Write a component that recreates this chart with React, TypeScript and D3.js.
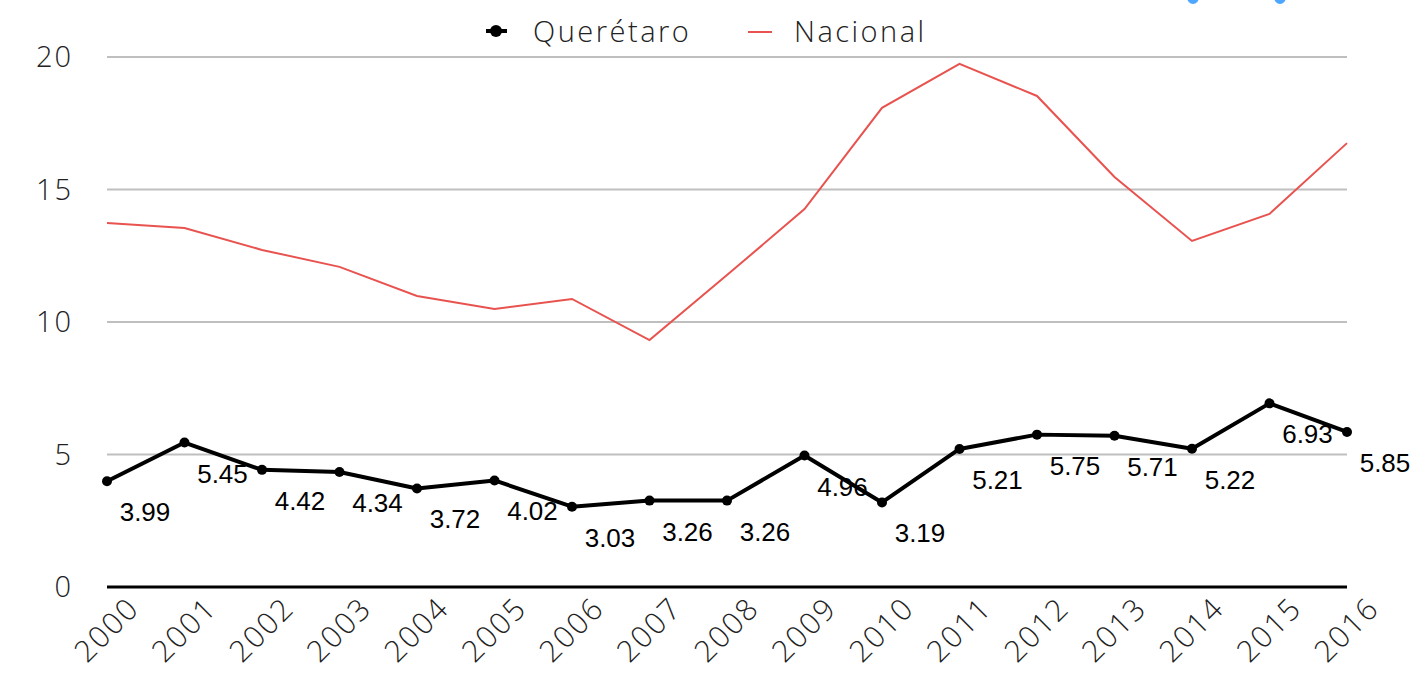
import React from 'react';
import * as d3 from 'd3';

const years = ['2000', '2001', '2002', '2003', '2004', '2005', '2006', '2007', '2008', '2009', '2010', '2011', '2012', '2013', '2014', '2015', '2016'];
const queretaro = [3.99, 5.45, 4.42, 4.34, 3.72, 4.02, 3.03, 3.26, 3.26, 4.96, 3.19, 5.21, 5.75, 5.71, 5.22, 6.93, 5.85];
const nacional = [13.74, 13.55, 12.72, 12.08, 10.98, 10.49, 10.87, 9.32, 11.77, 14.26, 18.08, 19.74, 18.53, 15.47, 13.06, 14.08, 16.75];
const yTicks = [0, 5, 10, 15, 20];

const W = 1415, H = 677;
const axisFont = "'Open Sans', Lato, sans-serif";
const labelFont = "'Liberation Sans', 'DejaVu Sans', sans-serif";

export default function App() {
  const x = d3.scalePoint<string>().domain(years).range([107, 1347]);
  const y = d3.scaleLinear().domain([0, 20]).range([587, 57]);

  const lineQ = d3.line<number>()
    .x((d, i) => x(years[i])!)
    .y(d => y(d));
  const lineN = d3.line<number>()
    .x((d, i) => x(years[i])!)
    .y(d => y(d));

  return (
    <svg width={W} height={H} style={{ position: 'absolute', left: 0, top: 0, background: '#fff' }}>
      {/* stray blue marks cut off at top */}
      <ellipse cx={1193} cy={-3} rx={6} ry={7} fill="#4da6ff" />
      <ellipse cx={1280} cy={-3} rx={6} ry={7} fill="#4da6ff" />

      {/* grid */}
      {yTicks.filter(t => t > 0).map(t => (
        <line key={t} x1={107} x2={1347} y1={y(t)} y2={y(t)} stroke="#bfbfbf" strokeWidth={2} />
      ))}
      <line x1={107} x2={1347} y1={y(0)} y2={y(0)} stroke="#000" strokeWidth={3} />

      {/* y labels */}
      {yTicks.map(t => (
        <text key={t} x={73} y={y(t) + 10} textAnchor="end" fontFamily={axisFont} fontWeight={300}
          fontSize={29} letterSpacing={2} fill="#222">{t}</text>
      ))}

      {/* x labels */}
      {years.map(yr => (
        <text key={yr} transform={`translate(${x(yr)! + 34},${610}) rotate(-45)`} textAnchor="end"
          fontFamily={axisFont} fontWeight={300} fontSize={30} letterSpacing={2} fill="#222">{yr}</text>
      ))}

      {/* nacional */}
      <path d={lineN(nacional)!} fill="none" stroke="#e8534f" strokeWidth={2} />

      {/* queretaro */}
      <path d={lineQ(queretaro)!} fill="none" stroke="#000" strokeWidth={4} strokeLinejoin="round" />
      {queretaro.map((v, i) => (
        <circle key={i} cx={x(years[i])!} cy={y(v)} r={5} fill="#000" />
      ))}
      {queretaro.map((v, i) => (
        <text key={'l' + i} x={x(years[i])! + 38} y={y(v) + 40} textAnchor="middle"
          fontFamily={labelFont} fontSize={26} fill="#000">{v.toFixed(2)}</text>
      ))}

      {/* legend */}
      <line x1={486} x2={507} y1={31} y2={31} stroke="#000" strokeWidth={4} />
      <circle cx={496} cy={31} r={6} fill="#000" />
      <text x={533} y={42} fontFamily={axisFont} fontWeight={300} fontSize={29} letterSpacing={2.5} fill="#222">Querétaro</text>
      <line x1={748} x2={772} y1={32} y2={32} stroke="#e8534f" strokeWidth={2} />
      <text x={794} y={42} fontFamily={axisFont} fontWeight={300} fontSize={29} letterSpacing={2.5} fill="#222">Nacional</text>
    </svg>
  );
}
